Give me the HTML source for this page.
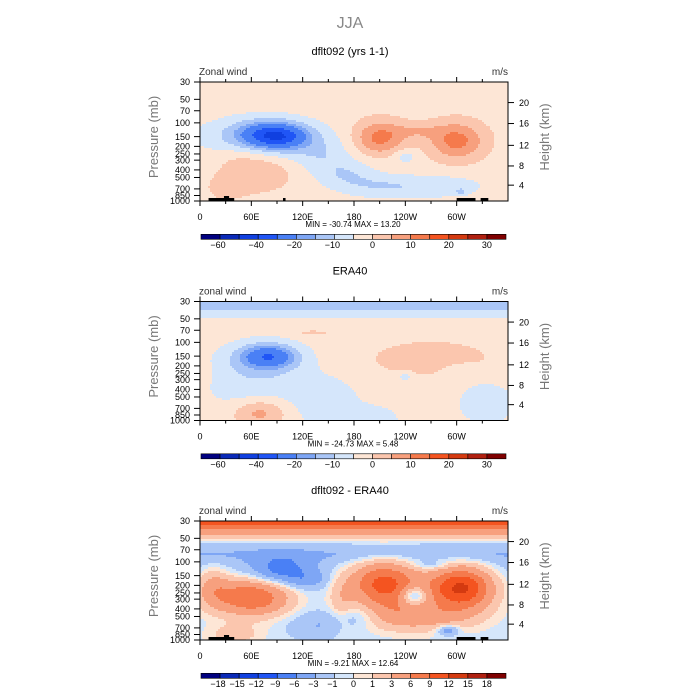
<!DOCTYPE html>
<html><head><meta charset="utf-8">
<style>
body{margin:0;background:#fff}
#wrap{position:relative;width:700px;height:700px;background:#fff;overflow:hidden;font-family:"Liberation Sans",sans-serif}
canvas{position:absolute;left:200px;image-rendering:pixelated}
svg{position:absolute;left:0;top:0}
</style></head>
<body>
<div id="wrap">
<canvas id="c0" width="308" height="119" style="top:82px"></canvas>
<canvas id="c1" width="308" height="119" style="top:301.5px"></canvas>
<canvas id="c2" width="308" height="119" style="top:521px"></canvas>
<svg id="s" width="700" height="700">
<text x="350" y="28" text-anchor="middle" font-size="16" fill="#888">JJA</text>
</svg>
</div>
<script>
// ---- data ----
const lonTicks=[0,60,120,180,240,300];
const lonLabels=['0','60E','120E','180','120W','60W'];
const lonMinor=[30,90,150,210,270,330];
const pTicks=[30,50,70,100,150,200,250,300,400,500,700,850,1000];
const hLabels=[20,16,12,8,4];
const hTickP=[55,102,194,356,627];
const levA=[-60,-50,-40,-30,-20,-15,-10,-5,0,5,10,15,20,25,30];
const levD=[-18,-15,-12,-9,-6,-3,-1,0,1,3,6,9,12,15,18];
const colors=['#00007f','#0a2ab8','#1040e0','#2055f5','#4a80f5','#7ea6f5','#aac6f7','#d5e6fb','#fde6d6','#fbc6ae','#f7a07e','#f57a4c','#f45420','#d43a10','#b02010','#7f0000'];
const titles=['dflt092 (yrs 1-1)','ERA40','dflt092 - ERA40'];
const varLabels=['Zonal wind','zonal wind','zonal wind'];
const minmax=['MIN = -30.74   MAX =  13.20','MIN = -24.73   MAX =   5.48','MIN =  -9.21   MAX =  12.64'];

// panel 1 (model)
const p1ProfP=[30,1000];
const p1ProfV=[-2,-2];
const p1Lon=[88,80,70,140,170,215,285,240,210,300,255,68,305,30,100,45];
const p1P=[145,140,150,250,450,650,650,270,155,170,125,430,760,700,180,280];
const p1Amp=[-22,-12,-7,-6,-7,-7,-6,-6,14,14,5,6,-6,3,-4,2];
const p1WLon=[32,45,80,35,35,45,50,15,30,32,30,40,6,25,25,25];
const p1WP=[0.3,0.45,0.6,0.5,0.45,0.35,0.35,0.22,0.5,0.55,0.25,0.55,0.1,0.4,0.3,0.4];

// panel 2 (ERA40)
const p2ProfP=[30,36,39,46,50,56,1000];
const p2ProfV=[-12,-11,-9,-6,-4,-1.5,-1.5];
const p2Lon=[80,80,60,150,205,335,270,130,70,240,300,5];
const p2P=[150,150,300,600,950,600,160,75,780,270,230,250];
const p2Amp=[-17,-9,-7,-7,-7,-7,5,3,10,-6,-3,3];
const p2WLon=[28,45,65,40,30,38,60,25,30,9,20,8];
const p2WP=[0.3,0.5,1.0,0.8,0.4,0.7,0.45,0.1,0.4,0.14,0.3,0.4];

// panel 3 (difference)
const p3ProfP=[30,34,38,43,48,53,60,80,110,200,400,1000];
const p3ProfV=[11,9,6,4,1.8,0.3,-1.5,-3.5,-2.2,-1.5,-0.8,-0.5];
const p3Lon=[95,125,60,15,215,305,250,260,290,140,180,40,270,165,230];
const p3P=[125,170,280,200,180,215,270,520,750,650,500,850,110,350,350];
const p3Amp=[-6,-3,10,4,11,14,-7,4,-5,-2.5,-2,2.5,-2,2.5,3];
const p3WLon=[32,22,45,20,42,38,16,60,12,35,25,30,20,15,40];
const p3WP=[0.4,0.25,0.55,0.6,0.65,0.65,0.28,0.4,0.15,0.4,0.3,0.3,0.12,0.8,0.6];

const topoLon0=[[10,28,97,300,328],[],[10,28,300,328]];
const topoLon1=[[40,34,100,322,337],[],[40,34,322,337]];
const topoH=[[3,5,3,3,3],[],[3,5,3,3]];

// ---- geometry ----
const X0=200,PW=308,PH=119,tops=[82,301.5,521],D=[0,219.5,439];
const LR=Math.log(1000/30);
function xOf(lon){return X0+lon/360*PW;}
function yOf(p,k){return tops[k]+Math.log(p/30)/LR*PH;}
function prof(P,V,p){const lp=Math.log(p);
  for(let i=0;i<P.length-1;i++){const a=Math.log(P[i]),b=Math.log(P[i+1]);
    if(lp<=b){return V[i]+(V[i+1]-V[i])*(lp-a)/(b-a);}}
  return V[V.length-1];}
function field(pp,pv,L,P,A,WL,WP,lon,p){let v=prof(pp,pv,p);const lp=Math.log(p);
  for(let i=0;i<L.length;i++){const dx=(lon-L[i])/WL[i],dy=(lp-Math.log(P[i]))/WP[i];v+=A[i]*Math.exp(-dx*dx-dy*dy);}
  return v;}
function box(lev,v){let i=0;while(i<lev.length&&v>=lev[i])i++;return i;}
const panels=[[p1ProfP,p1ProfV,p1Lon,p1P,p1Amp,p1WLon,p1WP,levA],[p2ProfP,p2ProfV,p2Lon,p2P,p2Amp,p2WLon,p2WP,levA],[p3ProfP,p3ProfV,p3Lon,p3P,p3Amp,p3WLon,p3WP,levD]];
panels.forEach((pn,k)=>{
  const ctx=document.getElementById('c'+k).getContext('2d');const c=2;
  for(let y=0;y<PH;y+=c)for(let x=0;x<PW;x+=c){
    const lon=(x+c/2)/PW*360,p=30*Math.exp((y+c/2)/PH*LR);
    const v=field(pn[0],pn[1],pn[2],pn[3],pn[4],pn[5],pn[6],lon,p);
    ctx.fillStyle=colors[box(pn[7],v)];ctx.fillRect(x,y,c,c);}
});

// ---- svg overlay ----
const NS='http://www.w3.org/2000/svg',S=document.getElementById('s');
function mk(tag,at,txt){const e=document.createElementNS(NS,tag);for(const k in at)e.setAttribute(k,at[k]);if(txt!==undefined)e.textContent=txt;S.appendChild(e);return e;}
for(let k=0;k<3;k++){
  const t=tops[k],d=D[k],b=t+PH;
  let e;
  e=mk('text',{x:350,y:55+d,'text-anchor':'middle','font-size':11,fill:'#000'},titles[k]);
  
  
  e=mk('text',{x:199,y:75+d,'font-size':10,fill:'#333'},varLabels[k]);
  
  
  e=mk('text',{x:508,y:75+d,'text-anchor':'end','font-size':10,fill:'#333'},'m/s');
  
  
  e=mk('text',{x:353,y:227+d,'text-anchor':'middle','font-size':8,fill:'#000','xml:space':'preserve'},minmax[k]);
  
  
  e=mk('text',{x:0,y:0,'font-size':13,fill:'#777','text-anchor':'middle',transform:'translate(158,'+(t+55)+') rotate(-90)'},'Pressure (mb)');
  
  
  e=mk('text',{x:0,y:0,'font-size':13,fill:'#777','text-anchor':'middle',transform:'translate(549,'+(t+55)+') rotate(-90)'},'Height (km)');
  
  
  topoLon0[k].forEach((l0,i)=>{
    const r=mk('rect',{x:xOf(l0),y:b-topoH[k][i],width:xOf(topoLon1[k][i])-xOf(l0),height:topoH[k][i],fill:'#000'});
    
    
  });
  e=mk('rect',{x:X0,y:t,width:PW,height:PH,fill:'none',stroke:'#000','stroke-width':1});
  
  
  lonTicks.forEach((l,i)=>{
    const x=xOf(l);
    const tk=mk('path',{d:'M'+x+' '+b+'v5M'+x+' '+t+'v-5',stroke:'#000','stroke-width':1});
    
    
    const tx=mk('text',{x:x,y:b+19,'text-anchor':'middle','font-size':9,fill:'#000'},lonLabels[i]);
    
    
  });
  lonMinor.forEach(l=>{const x=xOf(l);
    const tk=mk('path',{d:'M'+x+' '+b+'v3M'+x+' '+t+'v-3',stroke:'#000','stroke-width':1});
    
    
  });
  pTicks.forEach(p=>{const y=yOf(p,k);
    const tk=mk('path',{d:'M'+X0+' '+y+'h-6',stroke:'#000','stroke-width':1});
    
    
    const tx=mk('text',{x:190,y:y+3.2,'text-anchor':'end','font-size':9,fill:'#000'},String(p));
    
    
  });
  hTickP.forEach((p,i)=>{const y=yOf(p,k);
    const tk=mk('path',{d:'M'+(X0+PW)+' '+y+'h6',stroke:'#000','stroke-width':1});
    
    
    const tx=mk('text',{x:519,y:y+3.2,'font-size':9,fill:'#000'},String(hLabels[i]));
    
    
  });
  const cy=234.3+d,bw=305/16,lev=k<2?levA:levD;
  colors.forEach((c,i)=>{
    const r=mk('rect',{x:201+i*bw,y:cy,width:bw,height:5,fill:c,stroke:'#000','stroke-width':0.6});
    
    
  });
  lev.forEach((v,i)=>{
    if(k<2&&i%2)return;
    const s=v<0?'\u2212'+Math.abs(v):String(v);
    const tx=mk('text',{x:201+(i+1)*bw-(v<0?2:0),y:cy+13.5,'text-anchor':'middle','font-size':9,fill:'#000'},s);
    
    
  });
}
</script>
</body></html>
